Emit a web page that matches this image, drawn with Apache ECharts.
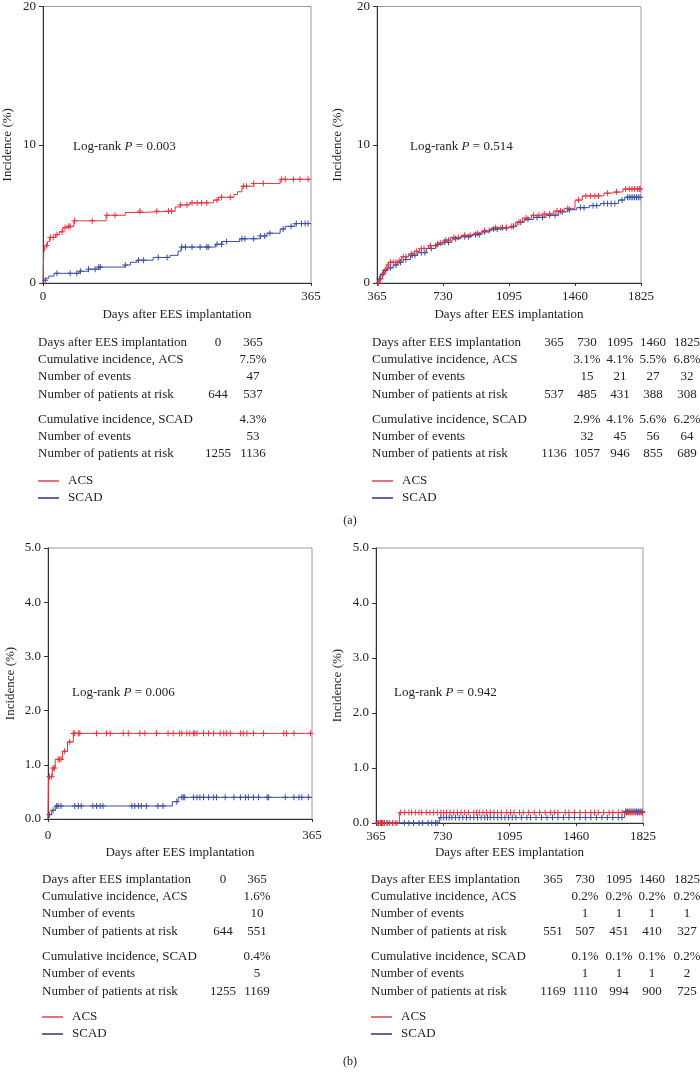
<!DOCTYPE html>
<html><head><meta charset="utf-8">
<script src="https://cdn.jsdelivr.net/npm/echarts@6/dist/echarts.min.js"></script>
<style>html,body{margin:0;padding:0;background:#fff}#c{width:700px;height:1078px}</style>
</head><body><div id="c"></div>
<script>
// ---------- DATA ----------
// (a) 0-365 days: KM steps [day, %]
const acsA1 = [[0,0],[1,2.2],[3,2.7],[6,3.0],[9,3.3],[17,3.5],[22,3.7],[27,4.0],[33,4.1],[42,4.5],[86,4.9],[112,5.1],[132,5.2],[180,5.5],[187,5.65],[200,5.8],[232,6.0],[239,6.2],[260,6.4],[265,6.6],[271,7.0],[287,7.2],[323,7.5],[365,7.5]];
const scadA1 = [[0,0],[1,0.2],[4,0.35],[8,0.5],[15,0.7],[49,0.85],[62,1.0],[76,1.15],[112,1.3],[119,1.5],[128,1.65],[150,1.85],[173,2.0],[184,2.3],[188,2.6],[235,2.8],[244,3.0],[268,3.2],[296,3.4],[305,3.6],[323,3.9],[330,4.1],[343,4.3],[365,4.3]];
const acsA1Cens = [5,10,14,19,26,30,35,37,43,67,87,98,132,155,171,175,187,196,203,210,216,223,237,243,255,273,277,287,300,325,330,341,350,361];
const scadA1Cens = [3,19,37,46,51,62,71,76,78,112,130,137,157,169,189,194,203,214,223,225,237,243,250,271,275,287,296,302,309,327,338,345,352,357,361];

// (a) 365-1825 days
const acsA2 = [[365,0],[380,0.3],[395,0.7],[408,1.0],[420,1.3],[430,1.5],[480,1.6],[500,1.9],[540,2.1],[570,2.3],[600,2.5],[650,2.7],[700,2.9],[730,3.1],[770,3.3],[830,3.45],[900,3.6],[950,3.8],[1000,4.0],[1095,4.1],[1130,4.4],[1170,4.7],[1220,4.9],[1270,5.0],[1340,5.2],[1400,5.4],[1460,6.0],[1500,6.3],[1620,6.5],[1660,6.6],[1726,6.8],[1825,6.8]];
const scadA2 = [[365,0],[372,0.3],[385,0.6],[400,0.9],[425,1.1],[455,1.3],[480,1.5],[510,1.7],[550,2.0],[590,2.2],[640,2.5],[690,2.8],[730,2.95],[780,3.2],[830,3.35],[890,3.5],[940,3.7],[990,3.9],[1040,4.0],[1095,4.1],[1140,4.4],[1180,4.6],[1230,4.75],[1300,4.9],[1370,5.15],[1420,5.3],[1470,5.45],[1540,5.6],[1600,5.75],[1700,6.0],[1735,6.2],[1825,6.2]];
const acsA2Cens = [372,385,400,415,428,440,455,470,488,510,525,555,585,610,625,660,690,715,745,760,790,815,850,880,920,960,985,1020,1050,1080,1110,1150,1190,1230,1260,1290,1320,1360,1380,1420,1480,1520,1545,1570,1590,1640,1690,1740,1760,1775,1790,1805,1815,1820];
const scadA2Cens = [378,395,410,440,470,495,525,560,575,610,630,665,700,740,760,800,850,870,910,930,960,1010,1030,1060,1080,1120,1160,1200,1250,1280,1320,1350,1390,1430,1490,1510,1560,1580,1620,1640,1660,1680,1720,1750,1760,1770,1780,1790,1800,1810,1820];

// (b) 0-365 days
const acsB1 = [[0,0],[1,0.78],[6,0.94],[10,1.1],[20,1.25],[27,1.42],[35,1.58],[365,1.58]];
const scadB1 = [[0,0],[1,0.08],[5,0.16],[10,0.24],[172,0.32],[180,0.4],[365,0.4]];
const acsB1Cens = [2,5,7,9,14,16,18,23,30,35,37,42,44,67,81,86,104,111,127,134,150,166,173,182,185,192,196,201,203,206,215,222,229,238,243,247,252,266,270,275,284,298,326,330,340,363];
const scadB1Cens = [2,7,12,14,18,37,42,46,62,67,72,76,116,120,125,129,136,152,159,178,185,187,189,201,206,210,215,222,229,233,245,257,266,273,277,284,291,303,305,328,340,347,351,360];

// (b) 365-1825 days
const acsB2 = [[365,0],[493,0.19],[1825,0.19]];
const scadB2 = [[365,0],[711,0.1],[1725,0.21],[1825,0.21]];
const acsB2Cens = [372,380,390,400,410,425,440,455,470,480,500,520,545,560,580,600,615,640,660,680,700,720,735,750,770,790,810,830,850,870,900,915,930,950,970,990,1010,1030,1050,1080,1100,1120,1150,1170,1200,1230,1260,1290,1320,1340,1360,1400,1420,1450,1480,1510,1540,1560,1580,1610,1640,1660,1690,1710,1735,1745,1755,1765,1775,1785,1795,1805,1815,1822];
const scadB2Cens = [380,395,410,430,520,545,570,600,620,650,670,690,700,720,735,750,765,780,800,820,840,860,880,900,920,940,960,975,990,1010,1030,1050,1070,1090,1110,1130,1160,1190,1210,1240,1270,1300,1330,1360,1390,1420,1450,1480,1510,1540,1570,1600,1630,1660,1690,1710,1730,1740,1750,1760,1770,1780,1790,1800,1810,1820];

const pValues = ["0.003","0.514","0.006","0.942"];
const seriesNames = ["ACS","SCAD"];
const rowLabels = ["Days after EES implantation","Cumulative incidence, ACS","Number of events","Number of patients at risk","Cumulative incidence, SCAD","Number of events","Number of patients at risk"];

const tabA1 = [["0","365"],["","7.5%"],["","47"],["644","537"],["","4.3%"],["","53"],["1255","1136"]];
const tabA2 = [["365","730","1095","1460","1825"],["","3.1%","4.1%","5.5%","6.8%"],["","15","21","27","32"],["537","485","431","388","308"],["","2.9%","4.1%","5.6%","6.2%"],["","32","45","56","64"],["1136","1057","946","855","689"]];
const tabB1 = [["0","365"],["","1.6%"],["","10"],["644","551"],["","0.4%"],["","5"],["1255","1169"]];
const tabB2 = [["365","730","1095","1460","1825"],["","0.2%","0.2%","0.2%","0.2%"],["","1","1","1","1"],["551","507","451","410","327"],["","0.1%","0.1%","0.1%","0.2%"],["","1","1","1","2"],["1169","1110","994","900","725"]];

// ---------- LAYOUT ----------
const FONT = "'Liberation Serif', 'DejaVu Serif', serif";
const RED = '#e6343f', BLUE = '#3b4ea0';
const LEG_RED = '#e0414e', LEG_BLUE = '#2c3872';

const panels = [
  {grid:{left:43,top:5,width:268,height:278}, xr:[0,365], yr:[0,20,10], dec:0, acs:acsA1, scad:scadA1, ac:acsA1Cens, sc:scadA1Cens, yGap:29, xGap:25, xMargin:7, p:[73,147]},
  {grid:{left:377,top:5,width:264,height:278}, xr:[365,1825], yr:[0,20,10], dec:0, acs:acsA2, scad:scadA2, ac:acsA2Cens, sc:scadA2Cens, yGap:33, xGap:25, xMargin:7, p:[410,147]},
  {grid:{left:48,top:548,width:264,height:271}, xr:[0,365], yr:[0,5,1], dec:1, acs:acsB1, scad:scadB1, ac:acsB1Cens, sc:scadB1Cens, yGap:31, xGap:27, xMargin:10, p:[72,693]},
  {grid:{left:376,top:548,width:267,height:275}, xr:[365,1825], yr:[0,5,1], dec:1, acs:acsB2, scad:scadB2, ac:acsB2Cens, sc:scadB2Cens, yGap:32, xGap:23, xMargin:7, p:[394,693]}
];
const tables = [
  {left:38, cols:[218,253], rows:[343,360,377,395,420,437,454], leg:[481,498], data:tabA1},
  {left:372, cols:[554,587,620,653,687], rows:[343,360,377,395,420,437,454], leg:[481,498], data:tabA2},
  {left:42, cols:[223,257], rows:[880,897,914,932,957,974,992], leg:[1017,1034], data:tabB1},
  {left:371, cols:[553,585,619,652,687], rows:[880,897,914,932,957,974,992], leg:[1017,1034], data:tabB2}
];

function stepValue(steps, t){ let v = 0; for (const s of steps) if (s[0] <= t) v = s[1]; return v; }
const PLUS = 'path://M3,0V6M0,3H6';

const grids = [], xAxes = [], yAxes = [], series = [], graphic = [];
panels.forEach((p, i) => {
  grids.push(Object.assign({show:true, borderColor:'#9a9a9a', borderWidth:1, backgroundColor:'#fff'}, p.grid));
  xAxes.push({type:'value', gridIndex:i, min:p.xr[0], max:p.xr[1], interval:365,
    name:'Days after EES implantation', nameLocation:'middle', nameGap:p.xGap,
    nameTextStyle:{fontFamily:FONT, fontSize:13, color:'#222'},
    axisLine:{lineStyle:{color:'#333', width:1}}, axisTick:{length:3, lineStyle:{color:'#333'}},
    axisLabel:{margin:p.xMargin, fontFamily:FONT, fontSize:13, color:'#222', formatter: v => String(v)}, splitLine:{show:false}});
  yAxes.push({type:'value', gridIndex:i, min:p.yr[0], max:p.yr[1], interval:p.yr[2],
    name:'Incidence (%)', nameLocation:'middle', nameGap:p.yGap, nameRotate:90,
    nameTextStyle:{fontFamily:FONT, fontSize:13, color:'#222'},
    axisLine:{show:true, lineStyle:{color:'#333', width:1}}, axisTick:{show:true, length:4, lineStyle:{color:'#333'}},
    axisLabel:{margin:7, fontFamily:FONT, fontSize:13, color:'#222', formatter: v => v.toFixed(p.dec)}, splitLine:{show:false}});
  const curves = [[p.scad, p.sc, BLUE], [p.acs, p.ac, RED]];
  curves.forEach(([steps, cens, col]) => {
    series.push({type:'line', xAxisIndex:i, yAxisIndex:i, step:'end', data:steps, showSymbol:false, silent:true,
      lineStyle:{color:col, width:1}, animation:false});
    series.push({type:'scatter', xAxisIndex:i, yAxisIndex:i, silent:true, animation:false,
      data:cens.map(t => [t, stepValue(steps, t)]), symbol:PLUS, symbolSize:6,
      itemStyle:{color:'rgba(0,0,0,0)', borderColor:col, borderWidth:1, opacity:1}});
  });
  graphic.push({type:'text', x:p.p[0], y:p.p[1], style:{
    text:'{n|Log-rank }{i|P}{n| = ' + pValues[i] + '}', verticalAlign:'middle', textVerticalAlign:'middle',
    rich:{n:{fontFamily:FONT, fontSize:13, fill:'#222', color:'#222'}, i:{fontFamily:FONT, fontSize:13, fontStyle:'italic', fill:'#222', color:'#222'}}}});
});

tables.forEach(tb => {
  tb.rows.forEach((y, r) => {
    graphic.push({type:'text', x:tb.left, y:y, style:{text:rowLabels[r], font:'13px ' + FONT, fill:'#222',
      align:'left', textAlign:'left', verticalAlign:'middle', textVerticalAlign:'middle'}});
    tb.data[r].forEach((v, c) => {
      if (!v) return;
      graphic.push({type:'text', x:tb.cols[c], y:y, style:{text:v, font:'13px ' + FONT, fill:'#222',
        align:'center', textAlign:'center', verticalAlign:'middle', textVerticalAlign:'middle'}});
    });
  });
  [[LEG_RED, seriesNames[0]], [LEG_BLUE, seriesNames[1]]].forEach(([col, name], k) => {
    const y = tb.leg[k];
    graphic.push({type:'line', shape:{x1:tb.left, y1:y, x2:tb.left + 21, y2:y}, style:{stroke:col, lineWidth:1.5}});
    graphic.push({type:'text', x:tb.left + 30, y:y, style:{text:name, font:'13px ' + FONT, fill:'#222',
      align:'left', textAlign:'left', verticalAlign:'middle', textVerticalAlign:'middle'}});
  });
});
graphic.push({type:'text', x:350, y:521, style:{text:'(a)', font:'12px ' + FONT, fill:'#222', align:'center', textAlign:'center', verticalAlign:'middle', textVerticalAlign:'middle'}});
graphic.push({type:'text', x:350, y:1062, style:{text:'(b)', font:'12px ' + FONT, fill:'#222', align:'center', textAlign:'center', verticalAlign:'middle', textVerticalAlign:'middle'}});

const chart = echarts.init(document.getElementById('c'), null, {renderer:'canvas'});
chart.setOption({animation:false, backgroundColor:'#fff', grid:grids, xAxis:xAxes, yAxis:yAxes, series:series, graphic:graphic});
</script></body></html>
